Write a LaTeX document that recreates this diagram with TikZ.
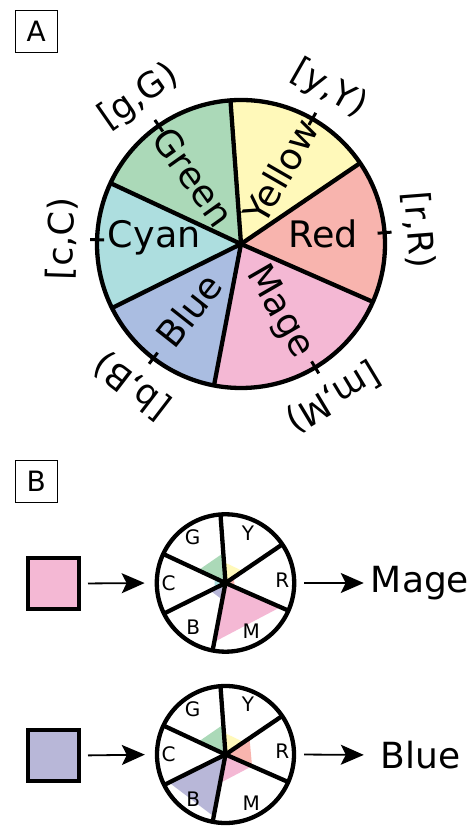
\documentclass[tikz,border=0pt]{standalone}
\usepackage{fontspec}
\setmainfont{DejaVu Sans}
\usetikzlibrary{arrows.meta}
\definecolor{cG}{HTML}{ABD9B8}
\definecolor{cY}{HTML}{FFF9BA}
\definecolor{cR}{HTML}{F8B4AE}
\definecolor{cM}{HTML}{F4B8D4}
\definecolor{cB}{HTML}{AABDE1}
\definecolor{cC}{HTML}{ADDEDF}
\definecolor{cL}{HTML}{B8B7D8}
\newcommand\mysector[4]{% center, a1, a2, color
  \fill[#4] (#1) -- ([shift={(#2:144)}]#1) arc[start angle=#2, end angle=#3, radius=144] -- cycle;}
\newcommand\mytri[5]{% center, a1, a2, r, color
  \fill[#5] (#1) -- ([shift={(#2:#4)}]#1) -- ([shift={(#3:#4)}]#1) -- cycle;}
\begin{document}
\begin{tikzpicture}[x=1pt,y=1pt,
  panelbox/.style={draw, line width=1.3pt, minimum size=42pt, inner sep=0pt, font=\fontsize{28}{28}\selectfont},
  spoke/.style={line width=4.3pt},
  tick/.style={line width=3pt},
  ringlab/.style={font=\fontsize{35}{35}\selectfont, inner sep=0pt},
  innerlab/.style={font=\fontsize{36.5}{36.5}\selectfont, inner sep=0pt},
  smalllab/.style={font=\fontsize{20}{20}\selectfont, inner sep=0pt},
  outlab/.style={font=\fontsize{36}{36}\selectfont, inner sep=0pt},
  swatch/.style={draw, line width=4pt, minimum size=51pt, inner sep=0pt},
  wheel/.style={circle, draw, line width=4.3pt, inner sep=0pt},
  conn/.style={line width=1.8pt, -{Stealth[length=23pt,width=20pt,inset=5pt]}}
]
\useasboundingbox (0,0) rectangle (473,826);
\fill[white] (0,0) rectangle (473,826);

% ---------- Panel A ----------
\node[panelbox] (boxA) at (36.2,794.6) {A};
\coordinate (O) at (241,582);
\mysector{O}{34.2}{94.2}{cY}
\mysector{O}{94.2}{155}{cG}
\mysector{O}{155}{206.4}{cC}
\mysector{O}{206.4}{259.2}{cB}
\mysector{O}{259.2}{336.3}{cM}
\mysector{O}{336.3}{394.2}{cR}
\foreach \a in {94.2,34.2,-23.7,-100.8,-153.6,155}
  \draw[spoke] (O) -- ([shift={(\a:144)}]O);
\node[wheel, minimum size=288pt] (bigwheel) at (O) {};
\foreach \a in {124.8,60.3,4.5,-59,-127.5,178.3}
  \draw[tick] ([shift={(\a:137)}]O) -- ([shift={(\a:151)}]O);

\node[ringlab, rotate=34.8]  (lg) at ([shift={(124.8:179)}]O) {[g,G)};
\node[ringlab, rotate=-29.7] (ly) at ([shift={(60.3:178)}]O) {[y,Y)};
\node[ringlab, rotate=-85.5] (lr) at ([shift={(4.5:178)}]O) {[r,R)};
\node[ringlab, rotate=-149]  (lm) at ([shift={(-59:179)}]O) {[m,M)};
\node[ringlab, rotate=142.5] (lb) at ([shift={(-127.5:179)}]O) {[b,B)};
\node[ringlab, rotate=88.3]  (lc) at ([shift={(178.3:179)}]O) {[c,C)};

\node[innerlab, rotate=-54.5] (tG) at ([shift={(125.5:82)}]O) {Green};
\node[innerlab, rotate=60]    (tY) at ([shift={(61.7:83)}]O) {Yellow};
\node[innerlab]               (tR) at ([shift={(7:83)}]O) {Red};
\node[innerlab, rotate=-60]   (tM) at ([shift={(-60.6:78)}]O) {Mage};
\node[innerlab, rotate=51.7]  (tB) at ([shift={(-128.3:84)}]O) {Blue};
\node[innerlab]               (tC) at ([shift={(175.8:87)}]O) {Cyan};

% ---------- Panel B ----------
\node[panelbox] (boxB) at (36.2,344.6) {B};

% wheel 1 (Mage)
\coordinate (P) at (225.5,243);
\mytri{P}{94.2}{155}{30}{cG}
\mytri{P}{34.2}{94.2}{21}{cY}
\mytri{P}{-23.7}{34.2}{10}{cR}
\mytri{P}{-100.8}{-23.7}{60}{cM}
\mytri{P}{-153.6}{-100.8}{17}{cL}
\mytri{P}{155}{206.4}{12}{cC}
\foreach \a in {94.2,34.2,-23.7,-100.8,-153.6,155}
  \draw[spoke] (P) -- ([shift={(\a:68.7)}]P);
\node[wheel, minimum size=137.4pt] (w1) at (P) {};
\node[smalllab] (w1G) at ([shift={(126:56)}]P) {G};
\node[smalllab] (w1Y) at ([shift={(66:55)}]P) {Y};
\node[smalllab] (w1R) at ([shift={(3:57)}]P) {R};
\node[smalllab] (w1M) at ([shift={(-62:55)}]P) {M};
\node[smalllab] (w1B) at ([shift={(-126:55)}]P) {B};
\node[smalllab] (w1C) at ([shift={(180:57)}]P) {C};

\node[swatch, fill=cM] (sq1) at (53.5,242.5) {};
\node[outlab] (out1) at (420,243) {Mage};
\draw[conn, shorten <=7pt, shorten >=10pt] (sq1.east) -- (w1.west);
\draw[conn, shorten <=8pt, shorten >=7pt] (w1.east) -- (out1.west);

% wheel 2 (Blue)
\coordinate (Q) at (225.5,71.5);
\mytri{Q}{94.2}{155}{30}{cG}
\mytri{Q}{34.2}{94.2}{22}{cY}
\mytri{Q}{-23.7}{34.2}{29}{cR}
\mytri{Q}{-100.8}{-23.7}{29}{cM}
\mytri{Q}{-153.6}{-100.8}{63}{cL}
\mytri{Q}{155}{206.4}{5}{cC}
\foreach \a in {94.2,34.2,-23.7,-100.8,-153.6,155}
  \draw[spoke] (Q) -- ([shift={(\a:68.7)}]Q);
\node[wheel, minimum size=137pt] (w2) at (Q) {};
\node[smalllab] (w2G) at ([shift={(126:56)}]Q) {G};
\node[smalllab] (w2Y) at ([shift={(66:55)}]Q) {Y};
\node[smalllab] (w2R) at ([shift={(3:57)}]Q) {R};
\node[smalllab] (w2M) at ([shift={(-62:55)}]Q) {M};
\node[smalllab] (w2B) at ([shift={(-126:55)}]Q) {B};
\node[smalllab] (w2C) at ([shift={(180:57)}]Q) {C};

\node[swatch, fill=cL] (sq2) at (53.5,70.5) {};
\node[outlab] (out2) at (420.8,71) {Blue};
\draw[conn, shorten <=7pt, shorten >=10pt] (sq2.east) -- (w2.west);
\draw[conn, shorten <=8pt, shorten >=17pt] (w2.east) -- (out2.west);
\end{tikzpicture}
\end{document}
